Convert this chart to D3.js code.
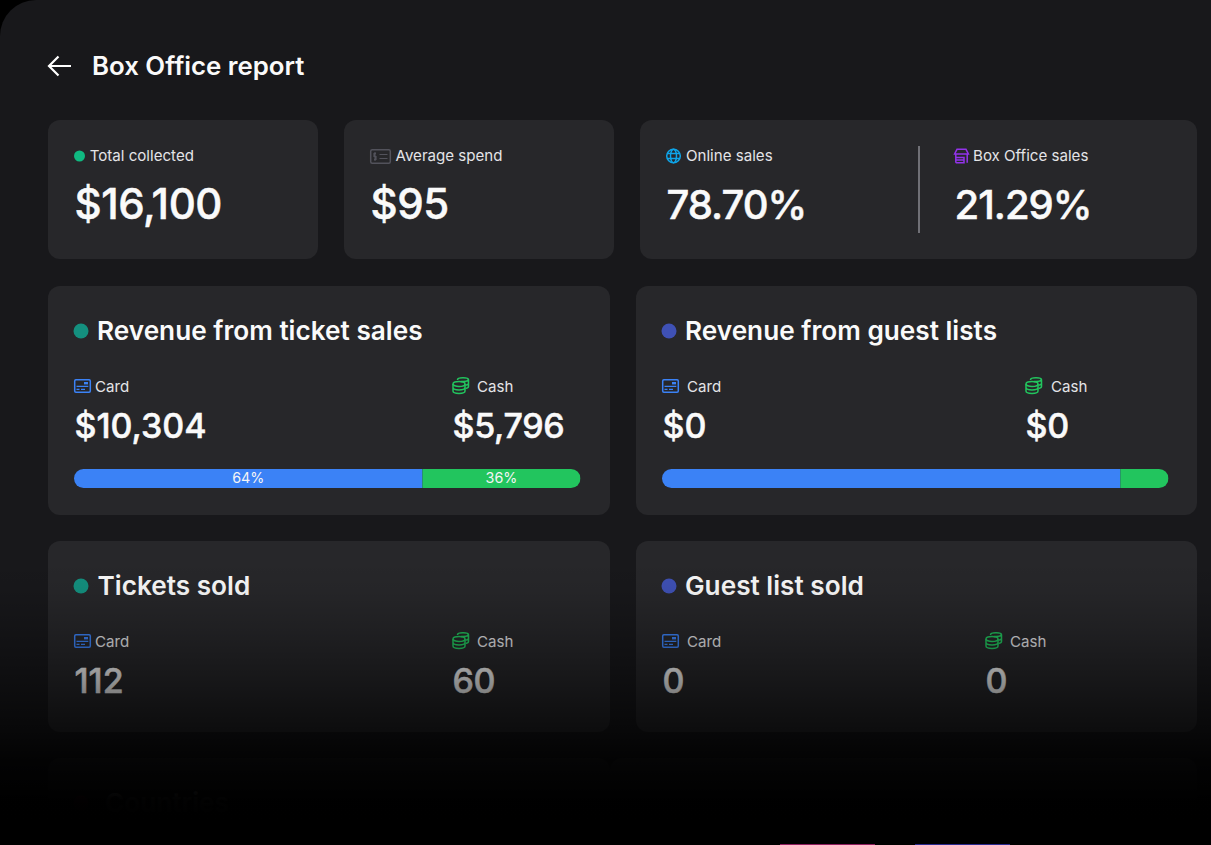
<!DOCTYPE html>
<html>
<head>
<meta charset="utf-8">
<title>Box Office report</title>
<script src="https://cdn.jsdelivr.net/npm/d3@7"></script>
<style>
  html, body { margin: 0; padding: 0; background: #000; overflow: hidden; }
  text { font-family: Inter, "Noto Sans", sans-serif; }
  text.value { stroke: #fafafa; stroke-width: 0.5px; }
</style>
</head>
<body>
<div id="chart"></div>
<script>
// Summary row
const summaryLabels = ['Total collected', 'Average spend', 'Online sales', 'Box Office sales'];
const summaryValues = ['$16,100', '$95', '78.70%', '21.29%'];

// Revenue and sold cards
const cardTitles = ['Revenue from ticket sales', 'Revenue from guest lists', 'Tickets sold', 'Guest list sold'];
const cardValuesCard = ['$10,304', '$0', '112', '0'];
const cardValuesCash = ['$5,796', '$0', '60', '0'];

// Split bars: drawn share and the printed labels
const barCardShare = [68.8, 90.5];
const barCashShare = [31.2, 9.5];
const barCardLabels = ['64%', ''];
const barCashLabels = ['36%', ''];

const width = 1211;
const height = 845;

const svg = d3.select('#chart')
  .append('svg')
  .attr('width', width)
  .attr('height', height)
  .style('display', 'block');

const defs = svg.append('defs');

// Fade to black over the lower part of the page
const fade = defs.append('linearGradient')
  .attr('id', 'fade')
  .attr('x1', 0).attr('y1', 0).attr('x2', 0).attr('y2', 1);
[[0, 0], [0.115, 0.05], [0.27, 0.2], [0.465, 0.42], [0.66, 0.68], [0.77, 0.88], [0.92, 0.992], [1, 1]].forEach(([o, a]) => {
  fade.append('stop').attr('offset', o).attr('stop-color', '#000').attr('stop-opacity', a);
});

// Panel background, rounded only at the top left
svg.append('path')
  .attr('d', `M0,${height} V36 A36,36 0 0 1 36,0 H${width} V${height} Z`)
  .attr('fill', '#18181b');

function drawCard(x, y, w, h) {
  svg.append('rect')
    .attr('x', x).attr('y', y).attr('width', w).attr('height', h)
    .attr('rx', 12)
    .attr('fill', '#27272a');
}

function drawText(str, x, y, size, weight, color, spacing) {
  return svg.append('text')
    .attr('x', x).attr('y', y)
    .attr('font-size', size)
    .attr('font-weight', weight)
    .attr('letter-spacing', spacing || 0)
    .attr('fill', color)
    .text(str);
}

// Small line icons
function iconGroup(x, y, color) {
  return svg.append('g')
    .attr('transform', `translate(${x},${y})`)
    .attr('fill', 'none')
    .attr('stroke', color)
    .attr('stroke-width', 1.5);
}

function ticketIcon(x, y) {
  const g = iconGroup(x, y, '#52525b');
  g.append('rect').attr('x', 0.7).attr('y', 0.7).attr('width', 19.6).attr('height', 13.6).attr('rx', 1.5);
  g.append('path').attr('d', 'M9.5,5.5 H17.5 M9.5,9.5 H17.5 M6,4.5 H4 V7.5 H6 V10.5 H4 M5,3 V12').attr('stroke-width', 1.2);
}

function globeIcon(x, y) {
  const g = iconGroup(x, y, '#0ea5e9');
  g.append('circle').attr('cx', 7.5).attr('cy', 7.5).attr('r', 6.8);
  g.append('ellipse').attr('cx', 7.5).attr('cy', 7.5).attr('rx', 3).attr('ry', 6.8);
  g.append('path').attr('d', 'M1,5 H14 M1,10 H14');
}

function storeIcon(x, y) {
  const g = iconGroup(x, y, '#9333ea');
  g.append('path').attr('d', 'M3,0.8 H12 L14.4,5.5 H0.6 Z');
  g.append('path').attr('d', 'M1.8,5.5 V14.2 M13.2,5.5 V14.2 M1.8,9 H10 V14.2 H1.8 M1.8,11.6 H10');
}

function cardIcon(x, y) {
  const g = iconGroup(x, y, '#3b82f6');
  g.append('rect').attr('x', 0.7).attr('y', 0.7).attr('width', 15.6).attr('height', 12.6).attr('rx', 1.2);
  g.append('rect').attr('x', 10).attr('y', 3).attr('width', 4).attr('height', 2.4).attr('fill', '#3b82f6').attr('stroke', 'none');
  g.append('path').attr('d', 'M2.5,7.3 H14.3 M2.5,10.3 H5.5 M7,10.3 H11').attr('stroke-width', 1.2);
}

function cashIcon(x, y) {
  const g = iconGroup(x, y, '#22c55e');
  g.append('ellipse').attr('cx', 7).attr('cy', 7).attr('rx', 6).attr('ry', 2.5);
  g.append('path').attr('d', 'M1,7 V14 C1,17.2 13,17.2 13,14 V7 M1,10.5 C1,13.7 13,13.7 13,10.5');
  g.append('path').attr('d', 'M5.5,3 V2.8 C5.5,0 16.5,0 16.5,2.8 V9.5 C16.5,10.5 15,11.2 13.5,11.5 M16.5,6.2 C16.5,7.2 15,7.9 13.5,8.2 M9,4.5 C12,4.8 15.5,4.2 16.5,2.8');
}

// Header
svg.append('path')
  .attr('d', 'M71,66 H49 M58.5,56.5 L49,66 L58.5,75.5')
  .attr('fill', 'none')
  .attr('stroke', '#fff')
  .attr('stroke-width', 2.2);
drawText('Box Office report', 92, 75, 25.8, 600, '#fafafa');

// Summary row
const summaryCards = [[48, 120, 270, 139], [344, 120, 270, 139], [640, 120, 557, 139]];
summaryCards.forEach(c => drawCard(...c));

svg.append('circle').attr('cx', 79.5).attr('cy', 156).attr('r', 5.5).attr('fill', '#10b981');
ticketIcon(370, 149);
globeIcon(666, 148.5);
storeIcon(954, 148.5);

const summaryLabelX = [89.7, 395.5, 686, 973];
const summaryValueX = [74.5, 370.5, 666.5, 954.5];
const summarySpacing = [-0.4, -0.4, -1, -1];
const summarySize = [42, 42, 40, 40];
summaryLabels.forEach((label, i) => {
  drawText(label, summaryLabelX[i], 161, 15.1, 400, '#e4e4e7');
  drawText(summaryValues[i], summaryValueX[i], 219, summarySize[i], 500, '#fafafa', summarySpacing[i]).attr('class', 'value');
});

svg.append('line')
  .attr('x1', 919).attr('x2', 919).attr('y1', 146).attr('y2', 233)
  .attr('stroke', '#8a8a90')
  .attr('stroke-width', 1.5);

// Revenue and sold cards
const cardX = [48, 636, 48, 636];
const cardY = [286, 286, 541, 541];
const cardW = [562, 561, 562, 561];
const cardH = [229, 229, 191, 191];
const dotColors = ['#14907f', '#3f51b5', '#14907f', '#3f51b5'];
const titleX = [97, 685, 97.5, 685];
const cardLabelX = [95, 687, 95, 687];
const cashIconX = [452, 1025, 452, 985];
const cashLabelX = [477, 1051, 477, 1010];

cardTitles.forEach((title, i) => {
  const x = cardX[i];
  const y = cardY[i];
  drawCard(x, y, cardW[i], cardH[i]);
  svg.append('circle').attr('cx', x + 33).attr('cy', y + 45).attr('r', 7.5).attr('fill', dotColors[i]);
  drawText(title, titleX[i], y + 54, 26.2, 600, '#fafafa');
  cardIcon(x + 26, y + 93);
  drawText('Card', cardLabelX[i], y + 105.5, 15.1, 400, '#e4e4e7');
  cashIcon(cashIconX[i], y + 91);
  drawText('Cash', cashLabelX[i], y + 105.5, 15.1, 400, '#e4e4e7');
  drawText(cardValuesCard[i], x + 26.5, y + 152, 34, 500, '#fafafa').attr('class', 'value');
  drawText(cardValuesCash[i], cashIconX[i] + 0.5, y + 152, 34, 500, '#fafafa', -0.3).attr('class', 'value');
});

// Split bars
const barLeft = [74, 662];
barCardShare.forEach((share, i) => {
  const x = d3.scaleLinear().domain([0, 100]).range([barLeft[i], barLeft[i] + 506.5]);
  const clipId = `bar-clip-${i}`;
  defs.append('clipPath').attr('id', clipId)
    .append('rect')
    .attr('x', x(0)).attr('y', 469)
    .attr('width', x(100) - x(0)).attr('height', 19)
    .attr('rx', 9.5);

  const bar = svg.append('g').attr('clip-path', `url(#${clipId})`);
  bar.append('rect')
    .attr('x', x(0)).attr('y', 469)
    .attr('width', x(share) - x(0)).attr('height', 19)
    .attr('fill', '#3b82f6');
  bar.append('rect')
    .attr('x', x(share)).attr('y', 469)
    .attr('width', x(share + barCashShare[i]) - x(share)).attr('height', 19)
    .attr('fill', '#22c55e');

  drawText(barCardLabels[i], x(share / 2), 483, 14.3, 400, '#f4f4f5').attr('text-anchor', 'middle');
  drawText(barCashLabels[i], x(share + barCashShare[i] / 2), 483, 14.3, 400, '#f4f4f5').attr('text-anchor', 'middle');
});

// Last row, almost lost in the fade
drawCard(48, 758, 562, 120);
drawCard(610, 758, 570, 120);
drawCard(636, 758, 561, 120);
svg.append('circle').attr('cx', 81).attr('cy', 803).attr('r', 7.5).attr('fill', '#e11d48');
drawText('Countries', 105, 812, 26.2, 600, '#fafafa');

svg.append('rect')
  .attr('x', 0).attr('y', 560)
  .attr('width', width).attr('height', 260)
  .attr('fill', 'url(#fade)');
svg.append('rect')
  .attr('x', 0).attr('y', 820)
  .attr('width', width).attr('height', 25)
  .attr('fill', '#000');

// Tops of the next buttons, just showing on the bottom edge
svg.append('rect').attr('x', 780).attr('y', 844).attr('width', 95).attr('height', 1).attr('fill', '#8f1d5e');
svg.append('rect').attr('x', 915).attr('y', 844).attr('width', 95).attr('height', 1).attr('fill', '#2a2a8f');
</script>
</body>
</html>
